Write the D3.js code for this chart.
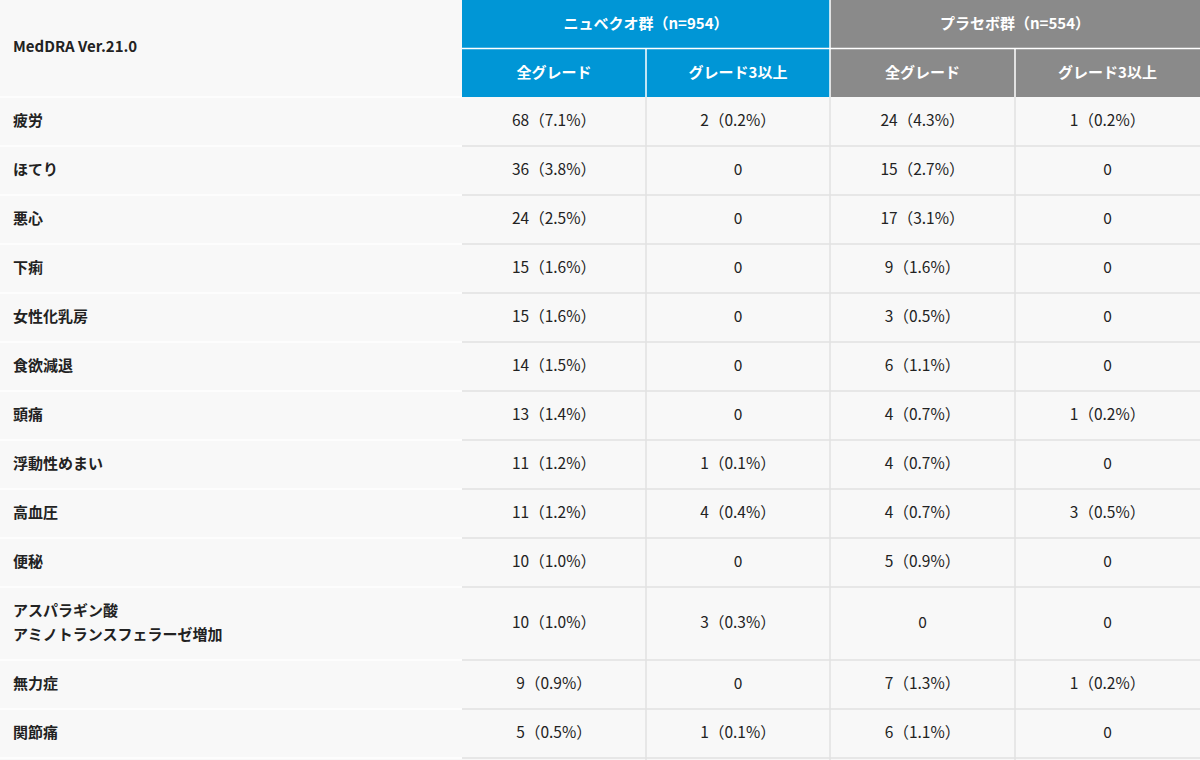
<!DOCTYPE html><html><head><meta charset="utf-8">
<script src="https://cdn.jsdelivr.net/npm/d3@7"></script>
<style>body{margin:0;background:#fff}</style></head><body><svg id="c" width="1200" height="760"></svg>
<script>
const groups=["ニュベクオ群（n=954）","プラセボ群（n=554）"];
const subHeaders=["全グレード","グレード3以上","全グレード","グレード3以上"];
const terms=["疲労","ほてり","悪心","下痢","女性化乳房","食欲減退","頭痛","浮動性めまい","高血圧","便秘","アスパラギン酸\nアミノトランスフェラーゼ増加","無力症","関節痛"];
const nubeqaAll=["68（7.1%）","36（3.8%）","24（2.5%）","15（1.6%）","15（1.6%）","14（1.5%）","13（1.4%）","11（1.2%）","11（1.2%）","10（1.0%）","10（1.0%）","9（0.9%）","5（0.5%）"];
const nubeqaG3=["2（0.2%）","0","0","0","0","0","0","1（0.1%）","4（0.4%）","0","3（0.3%）","0","1（0.1%）"];
const placeboAll=["24（4.3%）","15（2.7%）","17（3.1%）","9（1.6%）","3（0.5%）","6（1.1%）","4（0.7%）","4（0.7%）","4（0.7%）","5（0.9%）","0","7（1.3%）","6（1.1%）"];
const placeboG3=["1（0.2%）","0","0","0","0","0","1（0.2%）","0","3（0.5%）","0","0","1（0.2%）","0"];
const svg=d3.select("#c");
const font="'Noto Sans CJK JP','Noto Sans',sans-serif";
const colX=[0,462,646,830,1015,1200];
const hdrH=48.5;
const heights=terms.map(t=>t.includes("\n")?73:49);
const ys=[97];heights.forEach(h=>ys.push(ys[ys.length-1]+h));
svg.append("rect").attr("width",1200).attr("height",760).attr("fill","#f8f8f8");
const gc=["#0096d6","#8a8a8a"];
// header
svg.append("text").attr("x",13).attr("y",48).attr("dominant-baseline","middle").attr("font-family",font).attr("font-size",15).attr("font-weight",700).attr("fill","#222").text("MedDRA Ver.21.0");
groups.forEach((g,i)=>{
 const x0=colX[1+2*i],x1=colX[3+2*i];
 svg.append("rect").attr("x",x0).attr("y",0).attr("width",x1-x0).attr("height",hdrH*2).attr("fill",gc[i]);
 svg.append("text").attr("x",(x0+x1)/2).attr("y",25).attr("text-anchor","middle").attr("dominant-baseline","middle").attr("font-family",font).attr("font-size",15).attr("font-weight",700).attr("fill","#fff").text(g);
});
subHeaders.forEach((s,i)=>{
 svg.append("text").attr("x",(colX[i+1]+colX[i+2])/2).attr("y",74).attr("text-anchor","middle").attr("dominant-baseline","middle").attr("font-family",font).attr("font-size",15).attr("font-weight",700).attr("fill","#fff").text(s);
});
const wl=(x1,y1,x2,y2,c)=>svg.append("line").attr("x1",x1).attr("y1",y1).attr("x2",x2).attr("y2",y2).attr("stroke",c).attr("stroke-width",1.5);
wl(462,hdrH,1200,hdrH,"#fff");
[646,1015].forEach(x=>wl(x,hdrH,x,97,"#fff"));
wl(830,0,830,97,"#fff");
// body
const cols=[nubeqaAll,nubeqaG3,placeboAll,placeboG3];
terms.forEach((t,r)=>{
 const y0=ys[r],y1=ys[r+1],cy=(y0+y1)/2;
 const lines=t.split("\n");
 lines.forEach((l,k)=>svg.append("text").attr("x",13).attr("y",cy+(k-(lines.length-1)/2)*24).attr("dominant-baseline","middle").attr("font-family",font).attr("font-size",15).attr("font-weight",700).attr("fill","#222").text(l));
 cols.forEach((c,j)=>svg.append("text").attr("x",(colX[j+1]+colX[j+2])/2).attr("y",cy).attr("text-anchor","middle").attr("dominant-baseline","middle").attr("font-family",font).attr("font-size",15.5).attr("fill","#222").text(c[r]));
 wl(0,y1,462,y1,"#fff");
 wl(462,y1,1200,y1,"#e2e2e2");
});
wl(0,97,462,97,"#fff");
[646,830,1015].forEach(x=>wl(x,97,x,760,"#e2e2e2"));
</script></body></html>
